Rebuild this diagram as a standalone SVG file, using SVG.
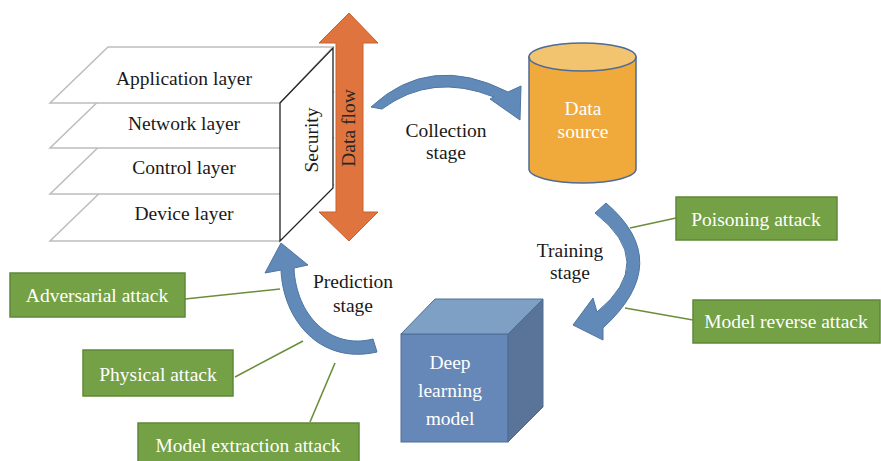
<svg xmlns="http://www.w3.org/2000/svg" width="881" height="461" viewBox="0 0 881 461">
<style>
text{font-family:"Liberation Serif","Times New Roman",serif;font-size:19.5px;text-anchor:middle}
.layer{fill:#fff;stroke:#bdbdbd;stroke-width:1.5}
.lbl{fill:#1a1a1a}
.wt{fill:#fff}
.gbox{fill:#74A046;stroke:#5E8838;stroke-width:1.5}
.conn{stroke:#6B8E3A;stroke-width:1.6;fill:none}
.barrow{fill:#628AB9;stroke:#4E74A2;stroke-width:1}
</style>
<rect width="881" height="461" fill="#fff"/>
<g id="layers">
<g id="device-layer"><polygon class="layer" points="108,185 333,185 280,241 50,241"/><text class="lbl" x="184" y="220">Device layer</text></g>
<g id="control-layer"><polygon class="layer" points="108,138 333,138 280,194 50,194"/><text class="lbl" x="184" y="174">Control layer</text></g>
<g id="network-layer"><polygon class="layer" points="108,92 333,92 280,148 50,148"/><text class="lbl" x="184" y="130">Network layer</text></g>
<g id="application-layer"><polygon class="layer" points="108,47 333,47 280,103 50,103"/><text class="lbl" x="184" y="85">Application layer</text></g>
</g>
<g id="security">
<polygon points="280,103 333,48 333,188 280,241" fill="#fff" stroke="#222" stroke-width="1.3"/>
<text class="lbl" transform="translate(318,140) rotate(-90)">Security</text>
</g>
<g id="data-flow">
<polygon points="349,13 378,43 363,43 363,212 378,212 349,241 319,212 336,212 336,43 319,43" fill="#E0743F" stroke="#C9602D" stroke-width="1"/>
<text transform="translate(355,128) rotate(-90)" fill="#262626">Data flow</text>
</g>
<g id="data-source">
<path d="M529,57 V169 A53.5,14 0 0 0 636,169 V57 Z" fill="#F0AA3C" stroke="#4E6B95" stroke-width="1.5"/>
<ellipse cx="582.5" cy="57" rx="53.5" ry="14" fill="#F3C46F" stroke="#4E6B95" stroke-width="1.5"/>
<text class="wt" x="583" y="115">Data</text>
<text class="wt" x="583" y="138">source</text>
</g>
<g id="deep-learning-model">
<rect x="401" y="334" width="107" height="108" fill="#6588B8" stroke="#4E6E98" stroke-width="1"/>
<polygon points="401,334 435,299 543,299 508,334" fill="#7EA0C5" stroke="#4E6E98" stroke-width="1"/>
<polygon points="508,334 543,299 543,407 508,442" fill="#5A7399" stroke="#4E6E98" stroke-width="1"/>
<text class="wt" x="450" y="369">Deep</text>
<text class="wt" x="450" y="397">learning</text>
<text class="wt" x="450" y="425">model</text>
</g>
<g id="stage-arrows">
<path id="collection-arrow" class="barrow" d="M371,107 Q430,52 508,92 L521,86 L520,120 L490,99 L494,97 Q432,72 382,109 Z"/>
<path id="training-arrow" class="barrow" d="M595,213 L606,203 Q675,262 603,328 L603,340 L573,325 L593,298 L597,312 Q658,262 595,213 Z"/>
<path id="prediction-arrow" class="barrow" d="M281,270 C283,320 320,365 377,352 L373,339 C330,350 296,315 294,268 L308,265 L281,243 L265,273 Z"/>
<text class="lbl" x="446" y="137">Collection</text>
<text class="lbl" x="446" y="159">stage</text>
<text class="lbl" x="570" y="257">Training</text>
<text class="lbl" x="570" y="279">stage</text>
<text class="lbl" x="353" y="288">Prediction</text>
<text class="lbl" x="353" y="312">stage</text>
</g>
<g id="connectors">
<line class="conn" x1="630" y1="228" x2="676" y2="218"/>
<line class="conn" x1="625" y1="308" x2="693" y2="320"/>
<line class="conn" x1="185" y1="299" x2="280" y2="289"/>
<line class="conn" x1="235" y1="377" x2="303" y2="341"/>
<line class="conn" x1="310" y1="422" x2="335" y2="363"/>
</g>
<g id="poisoning-attack"><rect class="gbox" x="676" y="197" width="161" height="43"/><text class="wt" x="756" y="226">Poisoning attack</text></g>
<g id="model-reverse-attack"><rect class="gbox" x="693" y="300" width="187" height="43"/><text class="wt" x="786" y="328">Model reverse attack</text></g>
<g id="adversarial-attack"><rect class="gbox" x="10" y="273" width="175" height="44"/><text class="wt" x="97" y="302">Adversarial attack</text></g>
<g id="physical-attack"><rect class="gbox" x="83" y="350" width="150" height="46"/><text class="wt" x="158" y="381">Physical attack</text></g>
<g id="model-extraction-attack"><rect class="gbox" x="138" y="423" width="221" height="46"/><text class="wt" x="248" y="452">Model extraction attack</text></g>
</svg>
